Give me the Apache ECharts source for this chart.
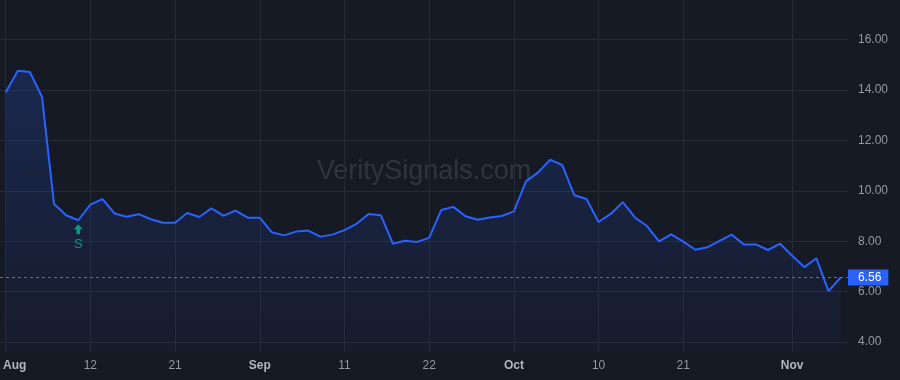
<!DOCTYPE html>
<html>
<head>
<meta charset="utf-8">
<script src="https://cdn.jsdelivr.net/npm/echarts@6/dist/echarts.min.js"></script>
<style>
html,body{margin:0;padding:0;background:#161a25;}
#chart{width:900px;height:380px;}
</style>
</head>
<body>
<div id="chart"></div>
<script>
// ---- data ----
const dates = [
  '2025-08-01','2025-08-04','2025-08-05','2025-08-06','2025-08-07','2025-08-08',
  '2025-08-11','2025-08-12','2025-08-13','2025-08-14','2025-08-15',
  '2025-08-18','2025-08-19','2025-08-20','2025-08-21','2025-08-22',
  '2025-08-25','2025-08-26','2025-08-27','2025-08-28','2025-08-29',
  '2025-09-02','2025-09-03','2025-09-04','2025-09-05',
  '2025-09-08','2025-09-09','2025-09-10','2025-09-11','2025-09-12',
  '2025-09-15','2025-09-16','2025-09-17','2025-09-18','2025-09-19',
  '2025-09-22','2025-09-23','2025-09-24','2025-09-25','2025-09-26',
  '2025-09-29','2025-09-30','2025-10-01','2025-10-02','2025-10-03',
  '2025-10-06','2025-10-07','2025-10-08','2025-10-09','2025-10-10',
  '2025-10-13','2025-10-14','2025-10-15','2025-10-16','2025-10-17',
  '2025-10-20','2025-10-21','2025-10-22','2025-10-23','2025-10-24',
  '2025-10-27','2025-10-28','2025-10-29','2025-10-30','2025-10-31',
  '2025-11-03','2025-11-04','2025-11-05','2025-11-06','2025-11-07'
];
const prices = [
  13.90,14.76,14.71,13.73,9.47,9.03,
  8.83,9.45,9.67,9.10,8.97,
  9.07,8.87,8.73,8.73,9.12,
  8.96,9.30,9.01,9.21,8.93,
  8.93,8.35,8.23,8.38,
  8.42,8.18,8.26,8.44,8.69,
  9.08,9.03,7.90,8.02,7.97,
  8.13,9.24,9.36,8.99,8.85,
  8.94,9.00,9.18,10.37,10.73,
  11.23,11.02,9.82,9.67,8.76,
  9.08,9.55,8.94,8.60,7.99,
  8.27,7.98,7.66,7.76,8.01,
  8.26,7.87,7.87,7.65,7.90,
  7.42,6.97,7.32,6.02,6.56
];
const tickDates  = ['2025-08-01','2025-08-12','2025-08-21','2025-09-02','2025-09-11','2025-09-22','2025-10-01','2025-10-10','2025-10-21','2025-11-03'];
const tickLabels = ['Aug','12','21','Sep','11','22','Oct','10','21','Nov'];
const yTicks = [4, 16, 2]; // min, max, step
const signalDates  = ['2025-08-11'];
const signalLabels = ['S'];
const watermark = 'VeritySignals.com';

// ---- chart ----
const FONT = '"Liberation Sans", Arial, sans-serif';
const BG = '#161a25', GRID = '#262a36', BLUE = '#2962ff', TEAL = '#089981';
const tickIdx = tickDates.map(d => dates.indexOf(d));
const lastPrice = prices[prices.length - 1];

const chart = echarts.init(document.getElementById('chart'), null, {renderer: 'canvas'});
chart.setOption({
  backgroundColor: BG,
  animation: false,
  textStyle: {fontFamily: FONT},
  graphic: [{
    type: 'text', silent: true, z: 0,
    x: 424, y: 172,
    style: {text: watermark, fill: 'rgba(178,181,190,0.17)', font: '27px ' + FONT,
            textAlign: 'center', textVerticalAlign: 'middle'}
  }],
  grid: [
    {left: 0, right: 52, top: 39.66, bottom: 38},
    {left: 5, right: 59.4, top: 0, bottom: 28}
  ],
  xAxis: [
    {gridIndex: 0, type: 'value', min: 0, max: 1, show: false},
    {gridIndex: 1, type: 'category', data: dates, boundaryGap: false,
     axisLine: {show: false}, axisTick: {show: false},
     splitLine: {show: true, interval: (i) => tickIdx.includes(i), lineStyle: {color: GRID, width: 1}},
     axisLabel: {
       interval: (i) => tickIdx.includes(i),
       margin: 8, fontSize: 12, color: '#9598a1', fontFamily: FONT,
       formatter: (v, i) => {
         const k = tickDates.indexOf(v);
         if (k < 0) return '';
         const t = tickLabels[k];
         if (k === 0) return '{first|' + t + '}';
         return isNaN(+t) ? '{m|' + t + '}' : '{d|' + t + '}';
       },
       rich: {
         first: {fontWeight: 'bold', color: '#b2b5be', fontSize: 12, fontFamily: FONT, padding: [0, 0, 0, 18]},
         m: {fontWeight: 'bold', color: '#b2b5be', fontSize: 12, fontFamily: FONT},
         d: {color: '#9598a1', fontSize: 12, fontFamily: FONT}
       }
     }}
  ],
  yAxis: [
    {gridIndex: 0, type: 'value', position: 'right', min: yTicks[0], max: yTicks[1], interval: yTicks[2],
     axisLine: {show: false}, axisTick: {show: false},
     splitLine: {show: true, lineStyle: {color: GRID, width: 1}},
     axisLabel: {margin: 10, fontSize: 12, color: '#9598a1', fontFamily: FONT, formatter: v => v.toFixed(2)}},
    {gridIndex: 1, type: 'value', min: 3.6033, max: 17.567, show: false, splitLine: {show: false}}
  ],
  series: [
    {
      type: 'line', xAxisIndex: 0, yAxisIndex: 0, silent: true,
      data: [[0, lastPrice], [1, lastPrice]],
      symbol: 'none', lineStyle: {opacity: 0},
      markLine: {
        silent: true, symbol: 'none', animation: false,
        lineStyle: {color: '#3d6fff', width: 1, type: [3, 3], opacity: 1},
        label: {
          show: true, position: 'end', distance: 0,
          formatter: p => (+p.value).toFixed(2),
          color: '#ffffff', fontSize: 12, fontFamily: FONT,
          backgroundColor: BLUE, padding: [2, 7, 1, 10], lineHeight: 13
        },
        data: [{yAxis: lastPrice}]
      }
    },
    {
      type: 'line', xAxisIndex: 1, yAxisIndex: 1,
      data: prices, symbol: 'none', z: 3,
      lineStyle: {color: BLUE, width: 2},
      areaStyle: {
        color: new echarts.graphic.LinearGradient(0, 0, 0, 1, [
          {offset: 0, color: 'rgba(41,98,255,0.28)'},
          {offset: 1, color: 'rgba(41,98,255,0.04)'}
        ])
      },
      markPoint: {
        silent: true, animation: false,
        symbol: 'path://M5,0 L10,5 L7,5 L7,10 L3,10 L3,5 L0,5 Z',
        symbolSize: [9, 10], symbolOffset: [0, 9],
        itemStyle: {color: TEAL},
        label: {show: true, position: 'bottom', distance: 4, color: TEAL, fontSize: 13, fontFamily: FONT},
        data: signalDates.map((d, k) => ({
          coord: [d, prices[dates.indexOf(d)]],
          value: signalLabels[k],
          label: {formatter: signalLabels[k]}
        }))
      }
    }
  ]
});
</script>
</body>
</html>
